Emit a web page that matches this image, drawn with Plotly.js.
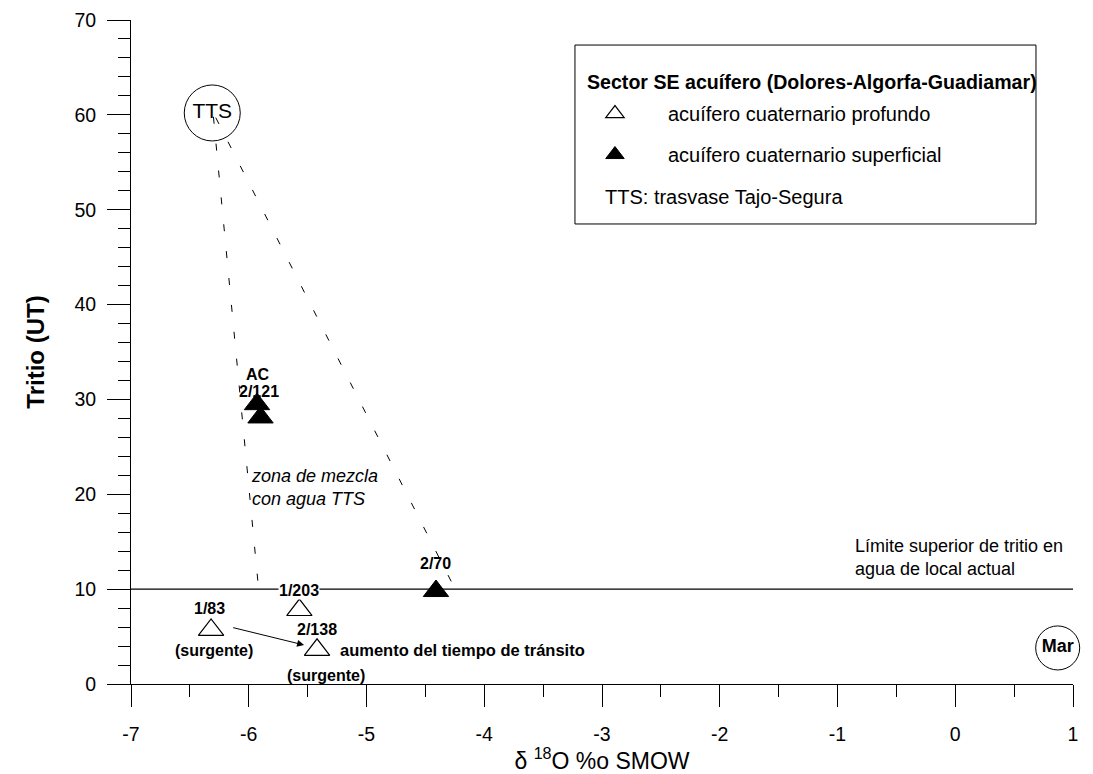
<!DOCTYPE html>
<html>
<head>
<meta charset="utf-8">
<script src="https://cdn.plot.ly/plotly-3.0.1.min.js"></script>
<style>
  html, body { margin: 0; padding: 0; background: #ffffff; }
  #grafico { width: 1093px; height: 774px; }
</style>
</head>
<body>
<div id="grafico"></div>
<script>
// Acuífero cuaternario profundo (triángulos abiertos)
const muestrasProfundo = ['1/83', '1/203', '2/138'];
const d18OProfundo = [-6.32, -5.57, -5.42];
const tritioProfundo = [5.7, 7.8, 3.6];

// Acuífero cuaternario superficial (triángulos rellenos)
const muestrasSuperficial = ['AC', '2/121', '2/70'];
const d18OSuperficial = [-5.93, -5.90, -4.41];
const tritioSuperficial = [29.5, 28.1, 9.8];

// Extremos de referencia: trasvase Tajo-Segura y agua de mar
const extremos = ['TTS', 'Mar'];
const d18OExtremos = [-6.31, 0.87];
const tritioExtremos = [60.2, 3.8];

// Límite superior de tritio en agua de recarga local actual (UT)
const limiteTritio = 10;

// Rectas de mezcla con agua TTS
const mezclaIzqX = [-6.30, -5.92];
const mezclaIzqY = [59.8, 10.5];
const mezclaDerX = [-6.28, -4.28];
const mezclaDerY = [59.7, 10.8];

// Evolución 1/83 -> 2/138 (aumento del tiempo de tránsito)
const flechaX = [-6.145, -5.53];
const flechaY = [5.98, 4.11];

const xTicks = [-7, -6, -5, -4, -3, -2, -1, 0, 1];
const yTicks = [0, 10, 20, 30, 40, 50, 60, 70];

const FONT = 'Liberation Sans, Arial, Helvetica, sans-serif';
const LABEL_SIZE = 16;

const mezclaLinea = { color: '#000000', width: 1, dash: '7px,20px' };

const traces = [
  {
    x: mezclaIzqX, y: mezclaIzqY, mode: 'lines', line: mezclaLinea,
    showlegend: false, hoverinfo: 'skip'
  },
  {
    x: mezclaDerX, y: mezclaDerY, mode: 'lines', line: mezclaLinea,
    showlegend: false, hoverinfo: 'skip'
  },
  {
    x: d18OProfundo, y: tritioProfundo, text: muestrasProfundo,
    name: 'acuífero cuaternario profundo', legendgroup: 'prof',
    mode: 'markers', type: 'scatter',
    marker: { symbol: 'triangle-up', size: 22, color: '#ffffff', line: { color: '#000000', width: 1.2 } }
  },
  {
    x: d18OSuperficial, y: tritioSuperficial, text: muestrasSuperficial,
    name: 'acuífero cuaternario superficial', legendgroup: 'sup',
    mode: 'markers', type: 'scatter',
    marker: { symbol: 'triangle-up', size: 22, color: '#000000', line: { color: '#000000', width: 1 } }
  },
  {
    x: [d18OExtremos[0]], y: [tritioExtremos[0]], text: [extremos[0]],
    mode: 'markers+text', textposition: 'middle center', showlegend: false,
    cliponaxis: false,
    textfont: { family: FONT, size: 21, color: '#000000' },
    marker: { symbol: 'circle-open', size: 56, color: '#000000', line: { width: 1 } }
  },
  {
    x: [d18OExtremos[1]], y: [tritioExtremos[1]], text: ['<b>' + extremos[1] + '</b>'],
    mode: 'markers+text', textposition: 'middle center', showlegend: false,
    cliponaxis: false,
    textfont: { family: FONT, size: 18, color: '#000000' },
    marker: { symbol: 'circle-open', size: 44, color: '#000000', line: { width: 1 } }
  }
];

// Desplazamientos (px) de las etiquetas de cada muestra respecto a su marcador
const etiquetaOffsets = {
  '1/83': [-2, 21], '1/203': [0, 20], '2/138': [0, 20],
  'AC': [1, 30], '2/121': [-2, 26], '2/70': [0, 28]
};

const annotations = [];
function etiquetar(nombres, xs, ys) {
  nombres.forEach((n, i) => {
    const off = etiquetaOffsets[n];
    annotations.push({
      x: xs[i], y: ys[i], xref: 'x', yref: 'y', text: '<b>' + n + '</b>',
      showarrow: false, xanchor: 'center', yanchor: 'middle',
      xshift: off[0], yshift: off[1],
      font: { family: FONT, size: LABEL_SIZE, color: '#000000' },
      bgcolor: n === '1/203' ? '#ffffff' : 'rgba(0,0,0,0)', borderpad: 0
    });
  });
}
etiquetar(muestrasProfundo, d18OProfundo, tritioProfundo);
etiquetar(muestrasSuperficial, d18OSuperficial, tritioSuperficial);

// Muestras surgentes
[0, 2].forEach((i, k) => {
  annotations.push({
    x: d18OProfundo[i], y: tritioProfundo[i], xref: 'x', yref: 'y',
    text: '<b>(surgente)</b>', showarrow: false,
    xshift: k === 0 ? 3 : 9, yshift: k === 0 ? -21 : -26,
    font: { family: FONT, size: LABEL_SIZE, color: '#000000' }
  });
});

annotations.push({
  x: d18OProfundo[2], y: tritioProfundo[2], xref: 'x', yref: 'y',
  text: '<b>aumento del tiempo de tránsito</b>', showarrow: false,
  xanchor: 'left', yanchor: 'middle', xshift: 21, yshift: 0,
  font: { family: FONT, size: 16.5, color: '#000000' }
});

// Flecha de evolución entre muestras
annotations.push({
  x: flechaX[1], y: flechaY[1], ax: flechaX[0], ay: flechaY[0],
  xref: 'x', yref: 'y', axref: 'x', ayref: 'y', text: '',
  showarrow: true, arrowhead: 2, arrowsize: 1.4, arrowwidth: 1, arrowcolor: '#000000', standoff: 0
});

// Zona de mezcla
annotations.push({
  x: -6.0, y: 20.7, xref: 'x', yref: 'y',
  text: '<i>zona de mezcla<br>con agua TTS</i>', showarrow: false,
  xanchor: 'left', yanchor: 'middle', align: 'left',
  font: { family: FONT, size: 18, color: '#000000' }
});

// Texto del límite de tritio
annotations.push({
  x: -0.87, y: 13.35, xref: 'x', yref: 'y',
  text: 'Límite superior de tritio en<br>agua de local actual', showarrow: false,
  xanchor: 'left', yanchor: 'middle', align: 'left',
  font: { family: FONT, size: 18, color: '#000000' }
});

// Recuadro de leyenda: título y línea explicativa de TTS
annotations.push({
  x: 0.482, y: 0.9066, xref: 'paper', yref: 'paper',
  text: '<b>Sector SE acuífero (Dolores-Algorfa-Guadiamar)</b>', showarrow: false,
  xanchor: 'left', yanchor: 'middle',
  font: { family: FONT, size: 19.6, color: '#000000' }
});
annotations.push({
  x: 0.5011, y: 0.7335, xref: 'paper', yref: 'paper',
  text: 'TTS: trasvase Tajo-Segura', showarrow: false,
  xanchor: 'left', yanchor: 'middle',
  font: { family: FONT, size: 20, color: '#000000' }
});

const layout = {
  width: 1093, height: 774,
  margin: { l: 131, r: 20, t: 20, b: 90 },
  paper_bgcolor: '#ffffff', plot_bgcolor: '#ffffff',
  font: { family: FONT, size: 19, color: '#000000' },
  xaxis: {
    range: [-7, 1], tickvals: xTicks, ticktext: xTicks.map(String),
    showline: true, linecolor: '#000000', linewidth: 1,
    ticks: 'outside', ticklen: 22, tickwidth: 1, tickcolor: '#000000',
    minor: { dtick: 0.5, ticks: 'outside', ticklen: 12, tickwidth: 1, tickcolor: '#000000', showgrid: false },
    showgrid: false, zeroline: false, ticklabelstandoff: 11,
    tickfont: { family: FONT, size: 19.5, color: '#000000' },
    title: { text: 'δ <sup>18</sup>O %o SMOW', font: { family: FONT, size: 23, color: '#000000' }, standoff: 2 }
  },
  yaxis: {
    range: [0, 70], tickvals: yTicks, ticktext: yTicks.map(String),
    showline: true, linecolor: '#000000', linewidth: 1,
    ticks: 'outside', ticklen: 23, tickwidth: 1, tickcolor: '#000000',
    minor: { dtick: 2, ticks: 'outside', ticklen: 12, tickwidth: 1, tickcolor: '#000000', showgrid: false },
    showgrid: false, zeroline: false, ticklabelstandoff: 7,
    tickfont: { family: FONT, size: 19.5, color: '#000000' },
    title: { text: '<b>Tritio (UT)</b>', font: { family: FONT, size: 24, color: '#000000' }, standoff: 22 }
  },
  showlegend: true,
  legend: {
    x: 0.4575, y: 0.8885, xanchor: 'left', yanchor: 'top',
    bgcolor: 'rgba(0,0,0,0)', borderwidth: 0,
    font: { family: FONT, size: 20, color: '#000000' },
    traceorder: 'grouped', tracegroupgap: 12, itemwidth: 96
  },
  shapes: [
    {
      type: 'line', xref: 'x', yref: 'y', x0: -7, x1: 1, y0: limiteTritio, y1: limiteTritio,
      line: { color: '#000000', width: 1.2 }, layer: 'below'
    },
    {
      type: 'rect', xref: 'paper', yref: 'paper', x0: 0.4713, x1: 0.9607, y0: 0.6928, y1: 0.9623,
      line: { color: '#000000', width: 1 }, fillcolor: 'rgba(0,0,0,0)'
    }
  ],
  annotations: annotations
};

Plotly.newPlot('grafico', traces, layout, { displayModeBar: false, staticPlot: true });
</script>
</body>
</html>
